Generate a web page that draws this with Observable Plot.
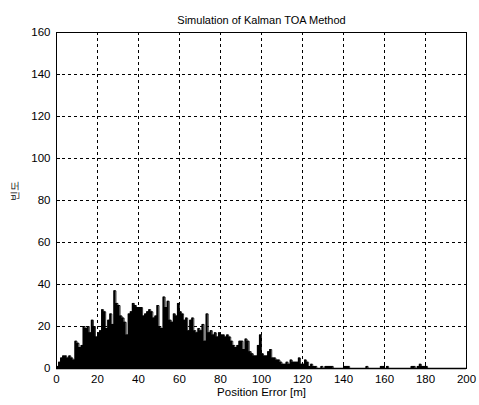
<!DOCTYPE html>
<html>
<head>
<meta charset="utf-8">
<script src="https://cdn.jsdelivr.net/npm/d3@7"></script>
<script src="https://cdn.jsdelivr.net/npm/@observablehq/plot@0.6"></script>
<style>
  html, body { margin: 0; padding: 0; background: #fff; }
  svg { font-family: "Liberation Sans", Arial, sans-serif; }
</style>
</head>
<body>
<div id="chart"></div>
<script>
// Histogram counts per 1 m bin, starting at 0 m
const counts = [
  1, 3, 5, 6, 6, 5, 6, 5, 4, 13,
  12, 10, 11, 20, 19, 20, 17, 23, 20, 15,
  17, 18, 28, 27, 19, 23, 26, 21, 37, 31,
  30, 25, 24, 22, 16, 26, 27, 31, 30, 29,
  29, 29, 25, 26, 27, 28, 27, 24, 25, 30,
  20, 19, 34, 29, 32, 23, 22, 26, 25, 31,
  27, 26, 23, 24, 18, 23, 24, 18, 17, 19,
  18, 21, 13, 26, 17, 18, 16, 17, 15, 17,
  16, 16, 15, 16, 15, 13, 11, 10, 11, 13,
  13, 9, 14, 13, 8, 7, 6, 6, 11, 16,
  7, 6, 6, 8, 9, 5, 5, 4, 4, 3,
  2, 2, 3, 2, 4, 3, 3, 3, 5, 2,
  2, 4, 3, 1, 2, 1, 1, 0, 0, 1,
  0, 1, 1, 1, 1, 0, 0, 0, 0, 0,
  1, 1, 1, 0, 0, 0, 0, 0, 0, 0,
  0, 1, 0, 0, 0, 0, 0, 0, 1, 1,
  0, 1, 0, 0, 0, 0, 0, 0, 0, 0,
  0, 0, 0, 1, 1, 0, 1, 2, 1, 1,
  1, 0, 0, 0, 0, 0, 0, 0, 0, 0,
  0, 0, 0, 0, 0, 0, 0, 0, 0, 0
];
const binWidth = 1;
const xTicks = [0, 20, 40, 60, 80, 100, 120, 140, 160, 180, 200];
const yTicks = [0, 20, 40, 60, 80, 100, 120, 140, 160];
const title = "Simulation of Kalman TOA Method";
const xLabel = "Position Error [m]";
const yLabel = "빈도";

// step outline of the histogram (left edge of each bin + closing edge)
const steps = counts.map((c, i) => ({x: i * binWidth, count: c}));
steps.push({x: counts.length * binWidth, count: 0});

const chart = Plot.plot({
  width: 479,
  height: 405,
  marginLeft: 56,
  marginRight: 13,
  marginTop: 32,
  marginBottom: 37,
  style: {fontSize: "11px", color: "#000", background: "#fff"},
  x: {domain: [0, 200], ticks: xTicks, label: null},
  y: {domain: [0, 160], ticks: yTicks, label: null},
  marks: [
    Plot.gridX(xTicks, {stroke: "#000", strokeOpacity: 1, strokeDasharray: "3,3", strokeWidth: 1}),
    Plot.gridY(yTicks, {stroke: "#000", strokeOpacity: 1, strokeDasharray: "3,3", strokeWidth: 1}),
    Plot.areaY(steps, {x: "x", y: "count", curve: "step-after", fill: "#000", fillOpacity: 1}),
    Plot.lineY(steps, {x: "x", y: "count", curve: "step-after", stroke: "#000", strokeWidth: 0.8}),
    Plot.ruleY([0], {stroke: "#000", strokeWidth: 1.5}),
    Plot.frame({stroke: "#000", strokeWidth: 1}),
    Plot.axisX(xTicks, {tickSize: -4, tickPadding: 10, fontSize: 11.5, stroke: "#000", fill: "#000"}),
    Plot.axisY(yTicks, {tickSize: -4, tickPadding: 10, fontSize: 11.5, stroke: "#000", fill: "#000"}),
    Plot.text([title], {frameAnchor: "top", dy: -16, fontSize: 11, fill: "#000"}),
    Plot.text([xLabel], {frameAnchor: "bottom", dy: 27, fontSize: 11.5, fill: "#000"}),
    Plot.text([yLabel], {frameAnchor: "left", dx: -42, rotate: -90, fontSize: 10, fill: "#000"})
  ]
});
document.getElementById("chart").appendChild(chart);
</script>
</body>
</html>
